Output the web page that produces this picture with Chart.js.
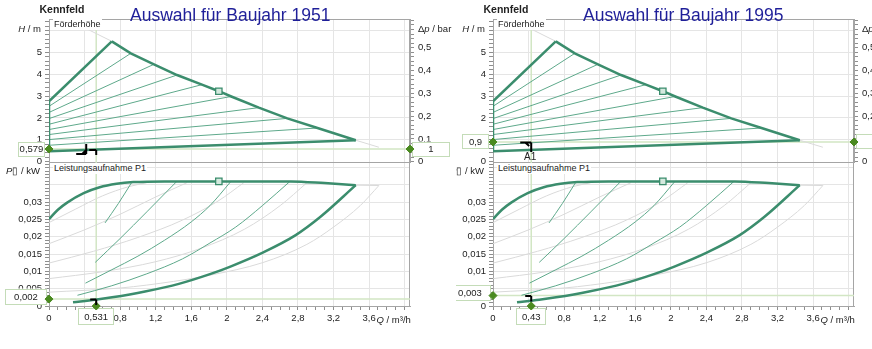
<!DOCTYPE html>
<html>
<head>
<meta charset="utf-8">
<script src="https://cdn.jsdelivr.net/npm/chart.js@4.4.1/dist/chart.umd.min.js"></script>
<style>
  html, body { margin: 0; padding: 0; background: #fff; }
  body { width: 872px; height: 349px; overflow: hidden; position: relative;
         font-family: "Liberation Sans", Arial, sans-serif; color: #222; }
  .panel { position: absolute; top: 0; height: 349px; overflow: hidden; }
  .inner { position: absolute; top: 0; width: 456px; height: 349px; }
  .inner canvas { position: absolute; left: 0; }
  .t { position: absolute; white-space: nowrap; line-height: 1; }
  .kf { font-weight: bold; font-size: 10.5px; left: 39.5px; top: 4px; }
  .ttl { font-size: 17.5px; color: #1f1f99; top: 7px; }
  .ax { font-size: 9.5px; }
  .lbl { font-size: 9px; background: #fff; padding: 1px; }
</style>
</head>
<body>
<div class="panel" style="left:0;width:456px"><div class="inner" id="iL" style="left:0"></div></div>
<div class="panel" style="left:456px;width:416px"><div class="inner" id="iR" style="left:-12px"></div></div>
<script>
// ---- axes ----
const Q_MAX = 4.06, H_MIN = -0.014, H_MAX = 6.52, DP_MIN = -0.0013, DP_MAX = 0.626, P_MAX = 0.0416;

const qTickValues = [0, 0.4, 0.8, 1.2, 1.6, 2, 2.4, 2.8, 3.2, 3.6];
const qTickLabels = ['0', '0,4', '0,8', '1,2', '1,6', '2', '2,4', '2,8', '3,2', '3,6'];
const hTickValues = [0, 1, 2, 3, 4, 5];
const hTickLabels = ['0', '1', '2', '3', '4', '5'];
const dpTickValues = [0, 0.1, 0.2, 0.3, 0.4, 0.5];
const dpTickLabels = ['0', '0,1', '0,2', '0,3', '0,4', '0,5'];
const pTickValues = [0, 0.005, 0.01, 0.015, 0.02, 0.025, 0.03];
const pTickLabels = ['0', '0,005', '0,01', '0,015', '0,02', '0,025', '0,03'];

// minor tick spacing / last minor tick, and grid spacing
const qMinor = [0.1, 4.0], qGrid = 0.4;
const hMinor = [0.2, 6.4], hGrid = 1;
const dpMinor = [0.02, 0.62];
const pMinor = [0.001, 0.041], pGrid = 0.005;

// ---- Förderhöhe H (m) over Q (m³/h) ----
const headLimitQ = [0, 0, 0.706];
const headLimitH = [0.48, 2.76, 5.50];
const headMaxQ = [0.706, 0.92, 1.18, 1.44, 1.72, 1.91, 2.05, 2.36, 2.68, 3.02, 3.45];
const headMaxH = [5.50, 4.95, 4.45, 3.96, 3.52, 3.22, 2.98, 2.47, 1.98, 1.54, 0.98];
const headMinQ = [0, 3.45];
const headMinH = [0.48, 0.98];
const fanStartH = [2.53, 2.25, 1.97, 1.71, 1.47, 1.24, 1.01, 0.75];
const fanEndQ = [0.92, 1.18, 1.44, 1.72, 2.05, 2.36, 2.68, 3.02];
const fanEndH = [4.95, 4.45, 3.96, 3.52, 2.98, 2.47, 1.98, 1.54];
const headGreyTopQ = [0.42, 0.706], headGreyTopH = [6.08, 5.50];
const headGreyEndQ = [3.45, 3.71], headGreyEndH = [0.98, 0.66];
const headRated = { q: 1.91, h: 3.22 };

// ---- Leistungsaufnahme P1 (kW) over Q ----
const powMaxQ = [0, 0.1, 0.2, 0.39, 0.57, 0.76, 0.95, 1.3, 1.91, 2.3, 2.72, 3.1, 3.45];
const powMaxP = [0.0251, 0.0278, 0.0298, 0.0326, 0.0343, 0.0353, 0.0358, 0.0360, 0.0360, 0.0360, 0.0360, 0.0355, 0.0349];
const powMinQ = [0.27, 0.52, 0.71, 1.08, 1.46, 1.81, 2.04, 2.41, 2.77, 3.05, 3.45];
const powMinP = [0.0011, 0.0018, 0.0025, 0.0042, 0.0064, 0.0092, 0.0114, 0.0155, 0.0204, 0.0257, 0.0349];
const pow1Q = [0.63, 0.78, 0.93],                           pow1P = [0.0240, 0.0296, 0.0357];
const pow2Q = [0.52, 0.8, 1.1, 1.43],                       pow2P = [0.0126, 0.0195, 0.0272, 0.0358];
const pow3Q = [0.41, 0.7, 1.0, 1.3, 1.6, 1.81, 2.04],       pow3P = [0.0066, 0.0104, 0.0144, 0.0190, 0.0243, 0.0290, 0.0358];
const pow4Q = [0.32, 0.7, 1.1, 1.5, 1.81, 2.1, 2.4, 2.71],  pow4P = [0.0031, 0.0058, 0.0093, 0.0136, 0.0182, 0.0228, 0.0290, 0.0360];
const grey1Q = [0, 0.3, 0.6, 0.9, 1.1],                     grey1P = [0.0241, 0.0280, 0.0318, 0.0345, 0.0356];
const grey2Q = [0, 0.4, 0.8, 1.2, 1.55],                    grey2P = [0.0180, 0.0220, 0.0265, 0.0315, 0.0356];
const grey3Q = [0, 0.5, 1.0, 1.5, 1.9, 2.19],               grey3P = [0.0124, 0.0158, 0.0198, 0.0248, 0.0303, 0.0356];
const grey4Q = [0, 0.6, 1.2, 1.7, 2.2, 2.6, 2.9],           grey4P = [0.0079, 0.0099, 0.0128, 0.0166, 0.0222, 0.0290, 0.0356];
const grey5Q = [0, 0.8, 1.4, 1.81, 2.4, 2.9, 3.2, 3.5, 3.71], grey5P = [0.0040, 0.0052, 0.0071, 0.0089, 0.0125, 0.0178, 0.0228, 0.0290, 0.0348];
const grey6Q = [3.45, 3.71],                                grey6P = [0.0349, 0.0348];
const powRated = { q: 1.91, p: 0.0360 };

// ---- duty points ----
const duty1951 = { year: 1951, q: 0.531, h: 0.579, p: 0.002, tag: '1', name: null, titleLeft: 130 };
const duty1995 = { year: 1995, q: 0.43, h: 0.9, p: 0.003, tag: '1', name: 'A1', titleLeft: 139 };

// ---- styling ----
const FONT = '"Liberation Sans", Arial, sans-serif';
const THICK = '#3b8d6d', THIN = '#5ea98b', GREY = '#dadada', GRID = '#e5e5e5', FRAME = '#a5a5a5',
      TICK = '#8e8e8e', OP = '#d2e6c4', DIAMOND = '#4a8a20', BOXLINE = '#c4dcb8';

Chart.defaults.font.family = FONT;
Chart.defaults.font.size = 9.5;
Chart.defaults.color = '#222';
Chart.defaults.animation = false;

const fmt = v => String(v).replace('.', ',');
const xy = (qs, vs) => qs.map((q, i) => ({ x: q, y: vs[i] }));
function curve(qs, vs, color, width, smooth) {
  return { data: xy(qs, vs), showLine: true, borderColor: color, borderWidth: width,
           pointRadius: 0, tension: 0, cubicInterpolationMode: smooth ? 'monotone' : 'default' };
}
function minorTicks([step, last]) {
  const out = [], n = Math.round(last / step);
  for (let i = 0; i <= n; i++) out.push(+(i * step).toFixed(6));
  return out;
}
const onStep = (v, step) => Math.abs(v / step - Math.round(v / step)) < 1e-6;
const labeler = (vals, labels) => v => {
  const i = vals.findIndex(t => Math.abs(t - v) < 1e-9);
  return i < 0 ? '' : labels[i];
};
const setTicks = list => s => { s.ticks = list.map(v => ({ value: v })); };
const gridFor = step => ctx => (ctx.tick && ctx.tick.value > 1e-9 && onStep(ctx.tick.value, step)) ? GRID : 'rgba(0,0,0,0)';

function boxAt(ctx, x, y, w, h, text) {
  ctx.fillStyle = '#fff';
  ctx.fillRect(x, y, w, h);
  ctx.strokeStyle = BOXLINE; ctx.lineWidth = 1;
  ctx.strokeRect(Math.round(x) + 0.5, Math.round(y) + 0.5, Math.round(w) - 1, Math.round(h) - 1);
  ctx.fillStyle = '#222';
  ctx.font = '9.5px ' + FONT;
  ctx.textAlign = 'center'; ctx.textBaseline = 'middle';
  ctx.fillText(text, x + w / 2, y + h / 2 + 0.5);
}
function strokeSegs(ctx, x0, y0, segs) {
  ctx.save();
  ctx.strokeStyle = '#000'; ctx.lineWidth = 2; ctx.lineCap = 'butt';
  ctx.beginPath();
  segs.forEach(([a, b]) => { ctx.moveTo(x0 + a[0], y0 + a[1]); ctx.lineTo(x0 + b[0], y0 + b[1]); });
  ctx.stroke();
  ctx.restore();
}

const framePlugin = {
  id: 'frame',
  beforeDatasetsDraw(chart) {
    const { ctx, chartArea: a } = chart;
    ctx.save();
    ctx.strokeStyle = FRAME; ctx.lineWidth = 1;
    ctx.beginPath();
    ctx.moveTo(a.left, Math.round(a.top) + 0.5); ctx.lineTo(a.right, Math.round(a.top) + 0.5);
    ctx.moveTo(Math.round(a.right) - 0.5, a.top); ctx.lineTo(Math.round(a.right) - 0.5, a.bottom);
    ctx.stroke();
    ctx.restore();
  }
};

function headDutyPlugin(duty) {
  return {
    id: 'headDuty',
    beforeDatasetsDraw(chart) {
      const { ctx, chartArea: a, scales } = chart;
      const px = scales.x.getPixelForValue(duty.q), py = scales.y.getPixelForValue(duty.h);
      ctx.save();
      ctx.strokeStyle = OP; ctx.lineWidth = 1.5;
      ctx.beginPath();
      ctx.moveTo(a.left, py); ctx.lineTo(a.right + 3, py);
      ctx.moveTo(px, a.top); ctx.lineTo(px, a.bottom);
      ctx.stroke();
      boxAt(ctx, a.left - 31, py - 7.5, 27, 15, fmt(duty.h));
      boxAt(ctx, a.right + 2, py - 7.5, 38, 15, duty.tag);
      ctx.restore();
    },
    afterDatasetsDraw(chart) {
      const { ctx, scales } = chart;
      const px = scales.x.getPixelForValue(duty.q), py = scales.y.getPixelForValue(duty.h);
      if (duty.name) {
        strokeSegs(ctx, px, py, [[[-11, 0.5], [0, 0.5]], [[0, 0.5], [0, 10]], [[-6, 0.5], [-2, 4]]]);
        ctx.save();
        ctx.fillStyle = '#222'; ctx.font = '10px ' + FONT;
        ctx.textAlign = 'center'; ctx.textBaseline = 'middle';
        ctx.fillText(duty.name, px - 1, py + 15);
        ctx.restore();
      } else {
        strokeSegs(ctx, px, py, [[[-20, 5], [-10, 5]], [[-10, 5], [-10, -5]], [[-14, 5], [-10, 1]],
                                 [[-7, 1], [0, 1]], [[0, 1], [0, 6]]]);
      }
    }
  };
}

function powerDutyPlugin(duty) {
  return {
    id: 'powerDuty',
    beforeDatasetsDraw(chart) {
      const { ctx, chartArea: a, scales } = chart;
      const px = scales.x.getPixelForValue(duty.q), py = scales.y.getPixelForValue(duty.p);
      ctx.save();
      ctx.strokeStyle = OP; ctx.lineWidth = 1.5;
      ctx.beginPath();
      ctx.moveTo(a.left, py); ctx.lineTo(a.right, py);
      ctx.moveTo(px, a.top); ctx.lineTo(px, a.bottom);
      ctx.stroke();
      boxAt(ctx, a.left - 44, py - 10.5, 42, 16, fmt(duty.p));
      ctx.font = '9.5px ' + FONT;
      const w = Math.round(ctx.measureText(fmt(duty.q)).width + 12);
      boxAt(ctx, px - w / 2, a.bottom + 2, w, 17, fmt(duty.q));
      ctx.restore();
    },
    afterDatasetsDraw(chart) {
      const { ctx, scales } = chart;
      const px = scales.x.getPixelForValue(duty.q), py = scales.y.getPixelForValue(duty.p);
      strokeSegs(ctx, px, py, [[[-6, 0.5], [0, 0.5]], [[0, 0.5], [0, 6]]]);
    }
  };
}

const common = {
  responsive: false,
  devicePixelRatio: 1,
  animation: false,
  plugins: { legend: { display: false }, tooltip: { enabled: false } },
  elements: { point: { radius: 0 } }
};

function headChart(canvas, duty) {
  const datasets = [
    { data: [{ x: 0, y: duty.h }, { x: Q_MAX, y: duty.h }], pointStyle: 'rectRot', pointRadius: 4,
      backgroundColor: DIAMOND, borderColor: DIAMOND, borderWidth: 1, showLine: false, clip: false },
    { data: [{ x: headRated.q, y: headRated.h }], pointStyle: 'rect', pointRadius: 4.5,
      backgroundColor: '#d4e9de', borderColor: THICK, borderWidth: 1.3, showLine: false, clip: false },
    curve(headLimitQ, headLimitH, THICK, 2.5),
    curve(headMaxQ, headMaxH, THICK, 2.5),
    curve(headMinQ, headMinH, THICK, 2.5),
    ...fanStartH.map((h0, i) => curve([0, fanEndQ[i]], [h0, fanEndH[i]], THIN, 1)),
    curve(headGreyTopQ, headGreyTopH, GREY, 1),
    curve(headGreyEndQ, headGreyEndH, GREY, 1)
  ];
  return new Chart(canvas, {
    type: 'scatter',
    data: { datasets },
    options: {
      ...common,
      layout: { padding: { top: 19, right: 0, bottom: 13, left: 0 } },
      scales: {
        x: { type: 'linear', min: 0, max: Q_MAX, afterBuildTicks: setTicks(minorTicks(qMinor)),
             ticks: { display: false, autoSkip: false },
             grid: { color: gridFor(qGrid), drawTicks: false },
             border: { display: false },
             afterFit: s => { s.height = 0; } },
        y: { type: 'linear', position: 'left', min: H_MIN, max: H_MAX,
             afterBuildTicks: setTicks(minorTicks(hMinor)),
             ticks: { autoSkip: false, padding: 3, callback: labeler(hTickValues, hTickLabels) },
             grid: { color: gridFor(hGrid), tickColor: TICK, tickLength: 4 },
             border: { color: FRAME },
             afterFit: s => { s.width = 49; } },
        y2: { type: 'linear', position: 'right', min: DP_MIN, max: DP_MAX,
              afterBuildTicks: setTicks(minorTicks(dpMinor)),
              ticks: { autoSkip: false, padding: 4, callback: labeler(dpTickValues, dpTickLabels) },
              grid: { drawOnChartArea: false, tickColor: TICK, tickLength: 4 },
              border: { color: FRAME },
              afterFit: s => { s.width = 46; } }
      }
    },
    plugins: [framePlugin, headDutyPlugin(duty)]
  });
}

function powerChart(canvas, duty) {
  const datasets = [
    { data: [{ x: 0, y: duty.p }, { x: duty.q, y: 0 }], pointStyle: 'rectRot', pointRadius: 4,
      backgroundColor: DIAMOND, borderColor: DIAMOND, borderWidth: 1, showLine: false, clip: false },
    { data: [{ x: powRated.q, y: powRated.p }], pointStyle: 'rect', pointRadius: 4.5,
      backgroundColor: '#d4e9de', borderColor: THICK, borderWidth: 1.3, showLine: false, clip: false },
    curve(powMaxQ, powMaxP, THICK, 2.5, true),
    curve(powMinQ, powMinP, THICK, 2.5, true),
    curve(pow1Q, pow1P, THIN, 1, true),
    curve(pow2Q, pow2P, THIN, 1, true),
    curve(pow3Q, pow3P, THIN, 1, true),
    curve(pow4Q, pow4P, THIN, 1, true),
    curve(grey1Q, grey1P, GREY, 1, true),
    curve(grey2Q, grey2P, GREY, 1, true),
    curve(grey3Q, grey3P, GREY, 1, true),
    curve(grey4Q, grey4P, GREY, 1, true),
    curve(grey5Q, grey5P, GREY, 1, true),
    curve(grey6Q, grey6P, GREY, 1)
  ];
  return new Chart(canvas, {
    type: 'scatter',
    data: { datasets },
    options: {
      ...common,
      layout: { padding: { top: 12, right: 46, bottom: 0, left: 0 } },
      scales: {
        x: { type: 'linear', min: 0, max: Q_MAX, afterBuildTicks: setTicks(minorTicks(qMinor)),
             ticks: { autoSkip: false, maxRotation: 0, padding: 3, callback: labeler(qTickValues, qTickLabels) },
             grid: { color: gridFor(qGrid), tickColor: TICK, tickLength: 4 },
             border: { color: FRAME },
             afterFit: s => { s.height = 43; } },
        y: { type: 'linear', position: 'left', min: 0, max: P_MAX,
             afterBuildTicks: setTicks(minorTicks(pMinor)),
             ticks: { autoSkip: false, padding: 3, callback: labeler(pTickValues, pTickLabels) },
             grid: { color: gridFor(pGrid), tickColor: TICK, tickLength: 4 },
             border: { color: FRAME },
             afterFit: s => { s.width = 49; } }
      }
    },
    plugins: [framePlugin, powerDutyPlugin(duty)]
  });
}

function addText(parent, cls, html, style) {
  const d = document.createElement('div');
  d.className = 't ' + cls;
  d.innerHTML = html;
  Object.assign(d.style, style || {});
  parent.appendChild(d);
  return d;
}

function buildPanel(innerId, duty) {
  const inner = document.getElementById(innerId);
  const cH = document.createElement('canvas');
  cH.width = 456; cH.height = 175;
  cH.style.cssText = 'top:0;width:456px;height:175px';
  const cP = document.createElement('canvas');
  cP.width = 456; cP.height = 199;
  cP.style.cssText = 'top:150px;width:456px;height:199px';
  inner.appendChild(cH);
  inner.appendChild(cP);

  addText(inner, 'kf', 'Kennfeld');
  addText(inner, 'ttl', 'Auswahl für Baujahr ' + duty.year, { left: duty.titleLeft + 'px' });
  addText(inner, 'ax', '<i>H</i> / m', { right: (456 - 41) + 'px', top: '23.5px' });
  addText(inner, 'ax', 'Δ<i>p</i> / bar', { left: '418px', top: '24px' });
  addText(inner, 'lbl', 'Förderhöhe', { left: '53px', top: '19px' });
  addText(inner, 'lbl', 'Leistungsaufnahme P1', { left: '53px', top: '162.5px' });
  addText(inner, 'ax', '<i>P</i>▯ / kW', { left: '6px', top: '166px' });
  addText(inner, 'ax', '<i>Q</i> / m³/h', { left: '376.5px', top: '314.5px' });

  headChart(cH, duty);
  powerChart(cP, duty);
}

buildPanel('iL', duty1951);
buildPanel('iR', duty1995);
</script>
</body>
</html>
